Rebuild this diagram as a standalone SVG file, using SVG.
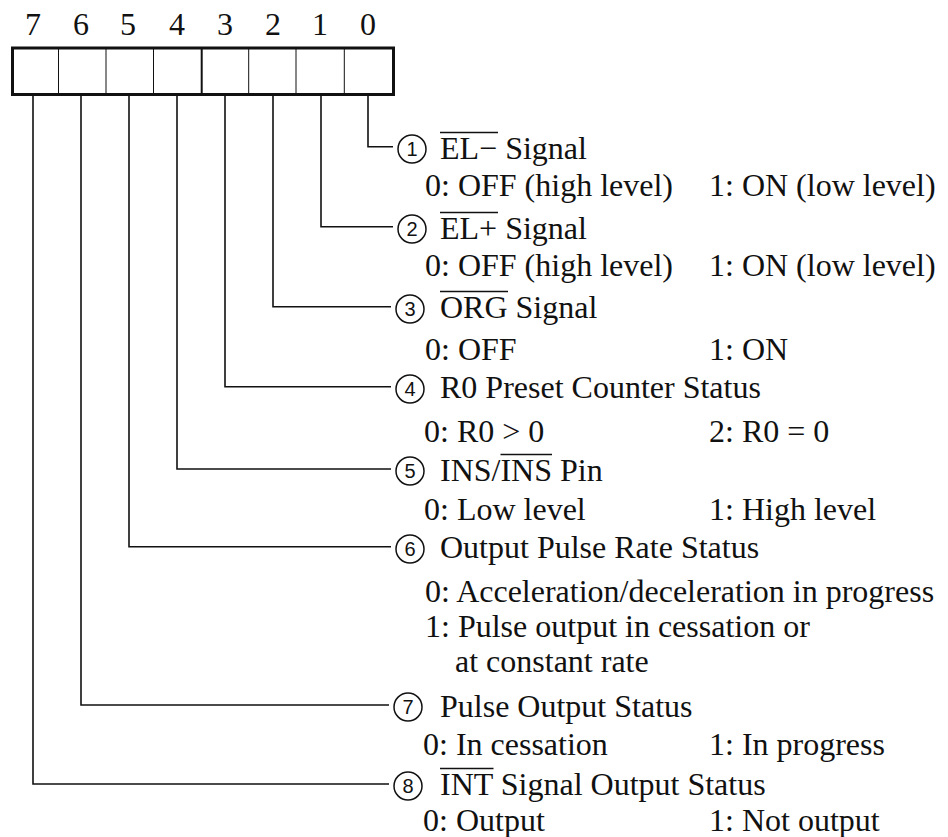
<svg xmlns="http://www.w3.org/2000/svg" width="948" height="837" viewBox="0 0 948 837">
<style>
.t{font-family:"Liberation Serif","Times New Roman",serif;font-size:32px;fill:#111}
.bn{font-family:"Liberation Serif","Times New Roman",serif;font-size:32px;fill:#111;text-anchor:middle}
.cn{font-family:"Liberation Sans",Arial,sans-serif;font-size:20px;fill:#111;text-anchor:middle}
.ov{stroke:#111;stroke-width:1.6}
.c{fill:none;stroke:#111;stroke-width:1.5}
.ln{fill:none;stroke:#111;stroke-width:1.6}
.dv{stroke:#111;stroke-width:1}
</style>
<rect width="948" height="837" fill="#fff"/>
<g id="register">
<text class="bn" x="33" y="35">7</text>
<text class="bn" x="81" y="35">6</text>
<text class="bn" x="128" y="35">5</text>
<text class="bn" x="177" y="35">4</text>
<text class="bn" x="225" y="35">3</text>
<text class="bn" x="273" y="35">2</text>
<text class="bn" x="320" y="35">1</text>
<text class="bn" x="368" y="35">0</text>
<rect x="12.5" y="48" width="381" height="46.5" fill="none" stroke="#111" stroke-width="3"/>
<line class="dv" x1="58.5" y1="48" x2="58.5" y2="94"/>
<line class="dv" x1="106" y1="48" x2="106" y2="94"/>
<line class="dv" x1="153.5" y1="48" x2="153.5" y2="94"/>
<line x1="201.7" y1="48" x2="201.7" y2="94" stroke="#111" stroke-width="2"/>
<line class="dv" x1="248.7" y1="48" x2="248.7" y2="94"/>
<line class="dv" x1="296" y1="48" x2="296" y2="94"/>
<line class="dv" x1="344.3" y1="48" x2="344.3" y2="94"/>
</g>
<g id="connectors">
<polyline class="ln" points="368,95 368,146.7 393,146.7"/>
<polyline class="ln" points="321,95 321,226.7 393,226.7"/>
<polyline class="ln" points="273,95 273,306.7 391,306.7"/>
<polyline class="ln" points="225,95 225,386.7 391,386.7"/>
<polyline class="ln" points="177,95 177,469 391,469"/>
<polyline class="ln" points="129,95 129,546.7 391,546.7"/>
<polyline class="ln" points="81,95 81,705 389,705"/>
<polyline class="ln" points="33,95 33,784 389,784"/>
</g>
<g id="item1">
<circle class="c" cx="412" cy="149" r="14"/><text class="cn" x="412" y="156">1</text>
<text class="t" x="440" y="159">EL− Signal</text>
<line class="ov" x1="440" y1="132.5" x2="498" y2="132.5"/>
<text class="t" x="425" y="196">0: OFF (high level)</text>
<text class="t" x="709" y="196">1: ON (low level)</text>
</g>
<g id="item2">
<circle class="c" cx="412" cy="229" r="14"/><text class="cn" x="412" y="236">2</text>
<text class="t" x="440" y="239">EL+ Signal</text>
<line class="ov" x1="440" y1="212.5" x2="498" y2="212.5"/>
<text class="t" x="425" y="276">0: OFF (high level)</text>
<text class="t" x="709" y="276">1: ON (low level)</text>
</g>
<g id="item3">
<circle class="c" cx="410" cy="309" r="14"/><text class="cn" x="410" y="316">3</text>
<text class="t" x="440" y="318">ORG Signal</text>
<line class="ov" x1="440" y1="291.5" x2="508" y2="291.5"/>
<text class="t" x="425" y="360">0: OFF</text>
<text class="t" x="709" y="360">1: ON</text>
</g>
<g id="item4">
<circle class="c" cx="410" cy="389" r="14"/><text class="cn" x="410" y="396">4</text>
<text class="t" x="440" y="398">R0 Preset Counter Status</text>
<text class="t" x="424" y="442">0: R0 &gt; 0</text>
<text class="t" x="709" y="442">2: R0 = 0</text>
</g>
<g id="item5">
<circle class="c" cx="410" cy="471" r="14"/><text class="cn" x="410" y="478">5</text>
<text class="t" x="440" y="481">INS/INS Pin</text>
<line class="ov" x1="500.5" y1="454.5" x2="552" y2="454.5"/>
<text class="t" x="424" y="520">0: Low level</text>
<text class="t" x="709" y="520">1: High level</text>
</g>
<g id="item6">
<circle class="c" cx="410" cy="549" r="14"/><text class="cn" x="410" y="556">6</text>
<text class="t" x="440" y="558">Output Pulse Rate Status</text>
<text class="t" x="425" y="602">0: Acceleration/deceleration in progress</text>
<text class="t" x="425" y="637">1: Pulse output in cessation or</text>
<text class="t" x="455" y="672">at constant rate</text>
</g>
<g id="item7">
<circle class="c" cx="408" cy="707" r="14"/><text class="cn" x="408" y="714">7</text>
<text class="t" x="440" y="717">Pulse Output Status</text>
<text class="t" x="423" y="755">0: In cessation</text>
<text class="t" x="709" y="755">1: In progress</text>
</g>
<g id="item8">
<circle class="c" cx="408" cy="786" r="14"/><text class="cn" x="408" y="793">8</text>
<text class="t" x="440" y="795">INT Signal Output Status</text>
<line class="ov" x1="440" y1="768.5" x2="493.5" y2="768.5"/>
<text class="t" x="423" y="831">0: Output</text>
<text class="t" x="709" y="831">1: Not output</text>
</g>
</svg>
